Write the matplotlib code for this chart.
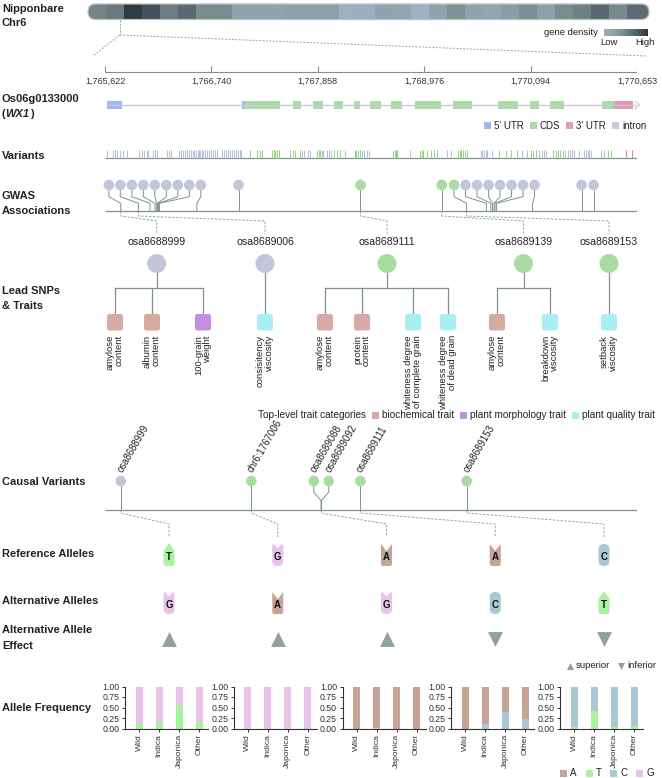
import numpy as np
import matplotlib
matplotlib.use("Agg")
import matplotlib.pyplot as plt
from matplotlib.patches import FancyBboxPatch, Rectangle, Polygon, Ellipse
from matplotlib.colors import LinearSegmentedColormap

plt.rcParams['font.family'] = ['Liberation Sans', 'DejaVu Sans']

# ====================== data ======================
chrom_label = ["Nipponbare", "Chr6"]
chrom_length = 31248787
density_bin = 1000000
gene_density = [0.55, 0.62, 0.97, 0.85, 0.60, 0.72, 0.50, 0.50, 0.30, 0.30,
                0.28, 0.32, 0.33, 0.33, 0.10, 0.12, 0.28, 0.25, 0.08, 0.30,
                0.45, 0.30, 0.25, 0.35, 0.47, 0.33, 0.50, 0.57, 0.73, 0.52,
                0.70, 0.70]

gene_id = "Os06g0133000"
gene_symbol = "WX1"
gene_start = 1765622
gene_end = 1770653
scale_labels = ["1,765,622", "1,766,740", "1,767,858", "1,768,976", "1,770,094", "1,770,653"]

# feature coordinates as bp offsets from gene_start
utr5_exons = [(16, 158), (1295, 1320)]
cds_exons = [(1320, 1658), (1778, 1854), (1964, 2063), (2163, 2248), (2353, 2416),
             (2504, 2606), (2700, 2811), (2931, 3174), (3294, 3468), (3714, 3907),
             (4015, 4100), (4210, 4337), (4700, 4816)]
utr3_exons = [(4816, 4990)]
feature_names = ["5' UTR", "CDS", "3' UTR", "intron"]

variant_intron = [22, 73, 95, 117, 142, 168, 206, 322, 348, 370, 395, 410, 458, 474, 496,
                  585, 606, 622, 704, 723, 742, 761, 780, 799, 818, 831, 846, 859, 875, 888,
                  900, 916, 931, 950, 966, 985, 1004, 1020, 1042, 1058, 1102, 1121, 1140,
                  1159, 1178, 1197, 1216, 1235, 1254, 1272, 1286, 1753, 1867, 1885, 1917,
                  1942, 2063, 2101, 2120, 2139, 2274, 2426, 2447, 2473, 2499, 2883, 3238,
                  3269, 3553, 3569, 3585, 3600, 3616, 3657, 3948, 3995, 4106, 4128, 4147,
                  4169, 4349, 4374, 4399, 4421, 4437, 4484, 4532, 4548, 4564, 4579, 4595, 4690]
variant_cds = [1374, 1437, 1462, 1485, 1579, 1595, 1611, 1627, 1642, 1778, 1794, 1848,
               2006, 2021, 2037, 2053, 2170, 2195, 2220, 2362, 2378, 2394, 2409, 2726,
               2738, 2751, 2764, 2978, 2994, 3010, 3048, 3079, 3111, 3143, 3338, 3354,
               3370, 3385, 3402, 3427, 3727, 3790, 3837, 3900, 4027, 4052, 4074, 4233,
               4264, 4286, 4305, 4328, 4721, 4753, 4785]
variant_utr3 = [4927, 4981]

gwas_offsets = [149, 316, 426, 474, 490, 496, 505, 515, 869, 1263, 2416, 3184, 3420,
                3607, 3648, 3664, 3679, 3688, 3702, 4043, 4507, 4621]
gwas_kind = ["intron"] * 10 + ["cds"] * 3 + ["intron"] * 9

lead_snps = ["osa8688999", "osa8689006", "osa8689111", "osa8689139", "osa8689153"]
lead_gwas_idx = [0, 1, 10, 11, 12]

trait_names = ["amylose\ncontent", "albumin\ncontent", "100-grain\nweight",
               "consisitency\nviscosity", "amylose\ncontent", "protein\ncontent",
               "whiteness degree\nof complete grain", "whiteness degree\nof dead grain",
               "amylose\ncontent", "breakdown\nviscosity", "setback\nviscosity"]
trait_category = ["biochemical trait", "biochemical trait", "plant morphology trait",
                  "plant quality trait", "biochemical trait", "biochemical trait",
                  "plant quality trait", "plant quality trait", "biochemical trait",
                  "plant quality trait", "plant quality trait"]
trait_lead = [0, 0, 0, 1, 2, 2, 2, 2, 3, 3, 4]
category_title = "Top-level trait categories"
category_names = ["biochemical trait", "plant morphology trait", "plant quality trait"]

causal_ids = ["osa8688999", "chr6:1767006", "osa8689088", "osa8689092", "osa8689111", "osa8689153"]
causal_offsets = [149, 1384, 2043, 2047, 2416, 3420]
causal_kind = ["intron", "cds", "cds", "cds", "cds", "cds"]

ref_alleles = ["T", "G", "A", "A", "C"]
alt_alleles = ["G", "A", "G", "C", "T"]
alt_effect = ["superior", "superior", "superior", "inferior", "inferior"]
column_sources = [[0], [1], [2, 3], [4], [5]]

groups = ["Wild", "Indica", "Japonica", "Other"]
alt_freq = [[0.87, 0.84, 0.44, 0.84],
            [0.00, 0.00, 0.00, 0.00],
            [0.00, 0.02, 0.00, 0.00],
            [0.00, 0.11, 0.40, 0.23],
            [0.03, 0.41, 0.04, 0.06]]
allele_order = ["A", "T", "C", "G"]

# ====================== styles ======================
C_GRAY = "#c3c6da"
C_GREEN = "#a9dca0"
kind_color = {"intron": C_GRAY, "cds": C_GREEN}
tick_color = {"intron": "#b6bad3", "cds": "#8fd585", "utr3": "#e07f9c"}
feat_color = {"5' UTR": "#9fb9f0", "CDS": "#a9dea0", "3' UTR": "#ea97b1", "intron": "#c7c9de"}
cat_color = {"biochemical trait": "#d6aaa2", "plant morphology trait": "#c38fe0",
             "plant quality trait": "#aaeff2"}
allele_colors = {"A": "#c6a395", "T": "#a8f2a2", "C": "#a9c8d4", "G": "#e9c4ea"}
LINE = "#7f938d"
DASH = "#9aa5a2"
TXT = "#222222"
TRI = "#8fa39c"
cmap = LinearSegmentedColormap.from_list(
    "dens", [(0.0, "#a3b7d0"), (0.3, "#8fa3ab"), (0.5, "#7a8c8e"),
             (0.75, "#56656c"), (1.0, "#2e363d")])

# ====================== figure ======================
W, H = 662, 778
fig = plt.figure(figsize=(W / 100, H / 100), dpi=100)
P = fig.add_axes([0, 0, 1, 1])
P.axis("off")
P.set_xlim(0, W)
P.set_ylim(H, 0)
renderer = fig.canvas.get_renderer()

X0, X1 = 105, 637
G = fig.add_axes([X0 / W, 0, (X1 - X0) / W, 1])
G.axis("off")
G.set_xlim(gene_start, gene_end)
G.set_ylim(H, 0)


def to_px(ax, x):
    d = ax.transData.transform((x, 0))
    return P.transData.inverted().transform(d)[0]


def dodge(xs, d):
    xs = np.asarray(xs, float)
    order = np.argsort(xs)
    clusters = [[v] for v in xs[order]]
    merged = True
    while merged:
        merged = False
        out = [clusters[0]]
        for c in clusters[1:]:
            p = out[-1]
            pr = np.mean(p) + (len(p) - 1) * d / 2
            cl = np.mean(c) - (len(c) - 1) * d / 2
            if cl - pr < d:
                out[-1] = p + c
                merged = True
            else:
                out.append(c)
        clusters = out
    res = []
    for c in clusters:
        m, n = np.mean(c), len(c)
        res += [m + (k - (n - 1) / 2) * d for k in range(n)]
    result = np.empty(len(xs))
    result[order] = res
    return result


def left_label(lines, y0, dy=14.5):
    for k, s in enumerate(lines):
        P.text(2, y0 + k * dy, s, ha="left", va="center", fontsize=8,
               fontweight="bold", color=TXT)


def flow_legend(x, y, items, fontsize, box=7, gap_box=2.5, gap_item=6):
    for label, color in items:
        if color is not None:
            P.add_patch(Rectangle((x, y - box / 2), box, box, color=color, lw=0))
            x += box + gap_box
        t = P.text(x, y, label, ha="left", va="center", fontsize=fontsize, color=TXT)
        x += t.get_window_extent(renderer=renderer).width + gap_item
    return x


# ---------- chromosome ----------
CX0, CX1, CY0, CY1 = 88, 649, 4, 19.5
C = fig.add_axes([CX0 / W, 1 - CY1 / H, (CX1 - CX0) / W, (CY1 - CY0) / H])
C.axis("off")
C.set_xlim(0, chrom_length)
C.set_ylim(0, 1)
starts = np.arange(len(gene_density)) * density_bin
widths = np.minimum(density_bin, chrom_length - starts)
bars = C.bar(starts, 1, width=widths, align="edge", color=cmap(np.array(gene_density)),
             linewidth=0)
rs = (CY1 - CY0) / 2
clip = FancyBboxPatch((CX0, CY0), CX1 - CX0, CY1 - CY0,
                      boxstyle=f"round,pad=0,rounding_size={rs}", transform=P.transData)
for b in bars:
    b.set_clip_path(clip)
outline = FancyBboxPatch((CX0, CY0), CX1 - CX0, CY1 - CY0,
                         boxstyle=f"round,pad=0,rounding_size={rs}",
                         transform=P.transData, fc="none", ec="#b8c0c4", lw=0.9,
                         clip_on=False)
C.add_artist(outline)
left_label(chrom_label, 9, 14)

# density legend
P.imshow(np.linspace(0.12, 1, 64)[None, :], extent=[604, 648, 36, 29.5], cmap=cmap,
         vmin=0, vmax=1, aspect="auto", interpolation="bilinear")
P.text(598, 32.5, "gene density", ha="right", va="center", fontsize=6.8, color=TXT)
P.text(609, 42.5, "Low", ha="center", va="center", fontsize=6.8, color=TXT)
P.text(645, 42.5, "High", ha="center", va="center", fontsize=6.8, color=TXT)

# zoom lines
gx_chr = to_px(C, gene_start)
dkw = dict(color="#a0a0a0", lw=0.7, ls=(0, (2, 1.5)))
P.plot([gx_chr, gx_chr], [CY1, 35], **dkw)
P.plot([gx_chr, 93], [35, 56], **dkw)
P.plot([gx_chr, 646], [35, 56], **dkw)

# scale axis
ticks_g = np.linspace(gene_start, gene_end, len(scale_labels))
G.hlines(72, gene_start, gene_end, color="#8c8c8c", lw=0.8)
G.vlines(ticks_g, 65.5, 72, color="#8c8c8c", lw=0.8)
for t, lab in zip(ticks_g, scale_labels):
    G.text(t, 81.5, lab, ha="center", va="center", fontsize=6.5, color="#333333")

# ---------- gene model ----------
GY = 105
GH = 8
G.plot([gene_start + utr5_exons[0][0], gene_end], [GY, GY], color=feat_color["intron"],
       lw=1.0, solid_capstyle="butt")
gend = to_px(G, gene_end)
P.plot([gend - 1.5, gend + 2.5, gend - 1.5], [GY - 3.5, GY, GY + 3.5],
       color=feat_color["intron"], lw=0.9)
for feats, name in [(utr5_exons, "5' UTR"), (cds_exons, "CDS"), (utr3_exons, "3' UTR")]:
    for s, e in feats:
        G.add_patch(Rectangle((gene_start + s, GY - GH / 2), e - s, GH,
                              color=feat_color[name], lw=0))
P.text(2, 99, gene_id, ha="left", va="center", fontsize=8, fontweight="bold", color=TXT)
tp = P.text(2, 113.5, "(", ha="left", va="center", fontsize=8, fontweight="bold", color=TXT)
tw = P.annotate(gene_symbol, xy=(1, 0), xycoords=tp, ha="left", va="bottom", fontsize=8,
                fontweight="bold", fontstyle="italic", color=TXT)
P.annotate(")", xy=(1, 0), xycoords=tw, ha="left", va="bottom", fontsize=8,
           fontweight="bold", color=TXT)

# gene legend
flow_legend(484, 125.5, [(n, feat_color[n]) for n in feature_names], 7, gap_box=3,
            gap_item=6)

# ---------- variants ----------
VB = 158
G.hlines(VB, gene_start, gene_end, color=LINE, lw=0.9)
for vals, k in [(variant_intron, "intron"), (variant_cds, "cds"), (variant_utr3, "utr3")]:
    G.vlines(gene_start + np.array(vals), 149.5, VB - 0.5, color=tick_color[k], lw=0.7)
left_label(["Variants"], 156)

# ---------- GWAS ----------
GB = 211
G.hlines(GB, gene_start, gene_end, color=LINE, lw=0.9)
gwas_px = np.array([to_px(G, gene_start + o) for o in gwas_offsets])
gwas_cx = dodge(gwas_px, 11.5)
for px, cx in zip(gwas_px, gwas_cx):
    P.plot([cx, cx, px, px], [190, 196.7, 203.3, GB], color=LINE, lw=0.7)
P.scatter(gwas_cx, np.full(len(gwas_cx), 185.0), s=58,
          c=[kind_color[k] for k in gwas_kind], linewidths=0, zorder=4)
left_label(["GWAS", "Associations"], 196)

# ---------- lead SNPs & traits ----------
trait_x = [115, 152, 203, 265, 325, 362, 413, 448, 497, 550, 609]
BOX_TOP, BOX_H, BOX_W = 314, 16.5, 16
TREE_Y = 287.5
CIRC_Y, CIRC_R = 263.5, 9.5
for i, snp in enumerate(lead_snps):
    kids = [j for j, l in enumerate(trait_lead) if l == i]
    lx = np.mean([trait_x[j] for j in kids])
    px = gwas_px[lead_gwas_idx[i]]
    P.plot([px, px, lx, lx], [GB, 216, 221, 234], color=DASH, lw=0.7, ls=(0, (2.5, 1.5)))
    P.text(lx, 242, snp, ha="center", va="center", fontsize=7.6, color=TXT)
    P.add_patch(Ellipse((lx, CIRC_Y), 2 * CIRC_R, 2 * CIRC_R,
                        color=kind_color[gwas_kind[lead_gwas_idx[i]]], lw=0, zorder=3))
    if len(kids) > 1:
        P.plot([lx, lx], [CIRC_Y + CIRC_R, TREE_Y], color=LINE, lw=0.9)
        P.plot([trait_x[kids[0]], trait_x[kids[-1]]], [TREE_Y, TREE_Y], color=LINE, lw=0.9)
        for j in kids:
            P.plot([trait_x[j], trait_x[j]], [TREE_Y, BOX_TOP], color=LINE, lw=0.9)
    else:
        P.plot([lx, lx], [CIRC_Y + CIRC_R, BOX_TOP], color=LINE, lw=0.9)
for j, name in enumerate(trait_names):
    x = trait_x[j]
    P.add_patch(FancyBboxPatch((x - BOX_W / 2, BOX_TOP), BOX_W, BOX_H,
                               boxstyle="round,pad=0,rounding_size=2.5",
                               fc=cat_color[trait_category[j]], ec="none", zorder=3))
    P.text(x, BOX_TOP + BOX_H + 4.5, name, rotation=90, ha="center", va="top",
           multialignment="right", fontsize=6.8, color=TXT, linespacing=1.0)
left_label(["Lead SNPs", "& Traits"], 291, 15)

# trait legend
flow_legend(258, 415, [(category_title, None)] +
            [(n, cat_color[n]) for n in category_names], 7.2, gap_box=3, gap_item=6)

# ---------- causal variants ----------
CB = 510
CCY = 481
G.hlines(CB, gene_start, gene_end, color=LINE, lw=0.9)
causal_px = np.array([to_px(G, gene_start + o) for o in causal_offsets])
causal_cx = dodge(causal_px, 15)
for px, cx in zip(causal_px, causal_cx):
    P.plot([cx, cx, px, px], [CCY + 5, 492, 500.6, CB], color=LINE, lw=0.7)
P.scatter(causal_cx, np.full(len(causal_cx), CCY), s=58,
          c=[kind_color[k] for k in causal_kind], linewidths=0, zorder=4)
for cx, lab in zip(causal_cx, causal_ids):
    P.text(cx - 1, CCY - 10, lab, rotation=60, rotation_mode="anchor", ha="left",
           va="center", fontsize=6.9, color=TXT)
left_label(["Causal Variants"], 482)

# ---------- allele frequency axes ----------
BX0, BDX, BW = 125, 108.75, 83
BY_TOP, BY_BOT = 686.5, 728.5
col_x = []
stack = ["T", "C", "G", "A"]
for i in range(len(ref_alleles)):
    ax = fig.add_axes([(BX0 + i * BDX) / W, 1 - BY_BOT / H, BW / W, (BY_BOT - BY_TOP) / H])
    fa = np.array(alt_freq[i])
    fr = {ref_alleles[i]: 1 - fa, alt_alleles[i]: fa}
    bottom = np.zeros(len(groups))
    for a in stack:
        if a in fr:
            ax.bar(np.arange(len(groups)), fr[a], 0.35, bottom=bottom,
                   color=allele_colors[a], lw=0)
            bottom = bottom + fr[a]
    ax.set_xlim(-0.7, 3.45)
    ax.set_ylim(0, 1)
    ax.set_yticks([0, 0.25, 0.5, 0.75, 1.0])
    ax.set_yticklabels(["0.00", "0.25", "0.50", "0.75", "1.00"])
    ax.set_xticks(np.arange(len(groups)))
    ax.set_xticklabels(groups, rotation=90)
    ax.patch.set_alpha(0)
    for s in ["top", "right"]:
        ax.spines[s].set_visible(False)
    for s in ["left", "bottom"]:
        ax.spines[s].set_color("#333333")
        ax.spines[s].set_linewidth(0.8)
    ax.tick_params(axis="both", length=2.5, width=0.7, color="#333333", pad=1.5,
                   labelcolor="#333333")
    ax.tick_params(axis="y", labelsize=6.3)
    ax.tick_params(axis="x", labelsize=6.1)
    col_x.append(to_px(ax, 1.5))
left_label(["Allele Frequency"], 708)

# connectors causal -> columns
for k, src in enumerate(column_sources):
    sx = np.mean([causal_px[s] for s in src])
    P.plot([sx, sx, col_x[k], col_x[k]], [CB, 513, 524, 537], color=DASH, lw=0.7,
           ls=(0, (2.5, 1.5)))


def glyph(x, yc, base, w=11, h=22):
    col = allele_colors[base]
    l, r, t, b = x - w / 2, x + w / 2, yc - h / 2, yc + h / 2
    if base == "C":
        p = FancyBboxPatch((l, t), w, h, boxstyle=f"round,pad=0,rounding_size={w / 2 - 0.2}",
                           fc=col, ec="none")
    elif base == "T":
        p = Polygon([(l, b - 1.5), (l, t + 7), (x, t - 1), (r, t + 7), (r, b - 1.5),
                     (r - 1.5, b), (l + 1.5, b)], closed=True, fc=col, ec="none")
    elif base == "G":
        p = Polygon([(l, b - 3), (l, t + 1), (l + 1.5, t), (x, t + 4.5), (r - 1.5, t),
                     (r, t + 1), (r, b - 3), (r - 2, b - 0.5), (x, b), (l + 2, b - 0.5)],
                    closed=True, fc=col, ec="none")
    else:  # A
        p = Polygon([(l, b - 1.5), (l, t), (x, t + 7), (r, t), (r, b - 1.5),
                     (r - 1.5, b), (l + 1.5, b)], closed=True, fc=col, ec="none")
    P.add_patch(p)
    P.text(x, yc + 2.5, base, ha="center", va="center", fontsize=7, fontweight="bold",
           color="#111111")


for k in range(len(ref_alleles)):
    glyph(col_x[k], 555, ref_alleles[k])
    glyph(col_x[k], 603, alt_alleles[k])
    P.scatter([col_x[k]], [638.5], marker="^" if alt_effect[k] == "superior" else "v",
              s=115, color=TRI, linewidths=0)
left_label(["Reference Alleles"], 554)
left_label(["Alternative Alleles"], 601)
left_label(["Alternative Allele", "Effect"], 630, 16)

# effect legend
P.scatter([570], [666], marker="^", s=26, color=TRI, linewidths=0)
P.text(576, 666, "superior", ha="left", va="center", fontsize=6.8, color=TXT)
P.scatter([621], [666], marker="v", s=26, color=TRI, linewidths=0)
P.text(627, 666, "inferior", ha="left", va="center", fontsize=6.8, color=TXT)

# allele legend
flow_legend(560, 773.5, [(a, allele_colors[a]) for a in allele_order], 7, gap_box=3,
            gap_item=9)

P.set_xlim(0, W)
P.set_ylim(H, 0)
fig.savefig("out.png", dpi=100)
